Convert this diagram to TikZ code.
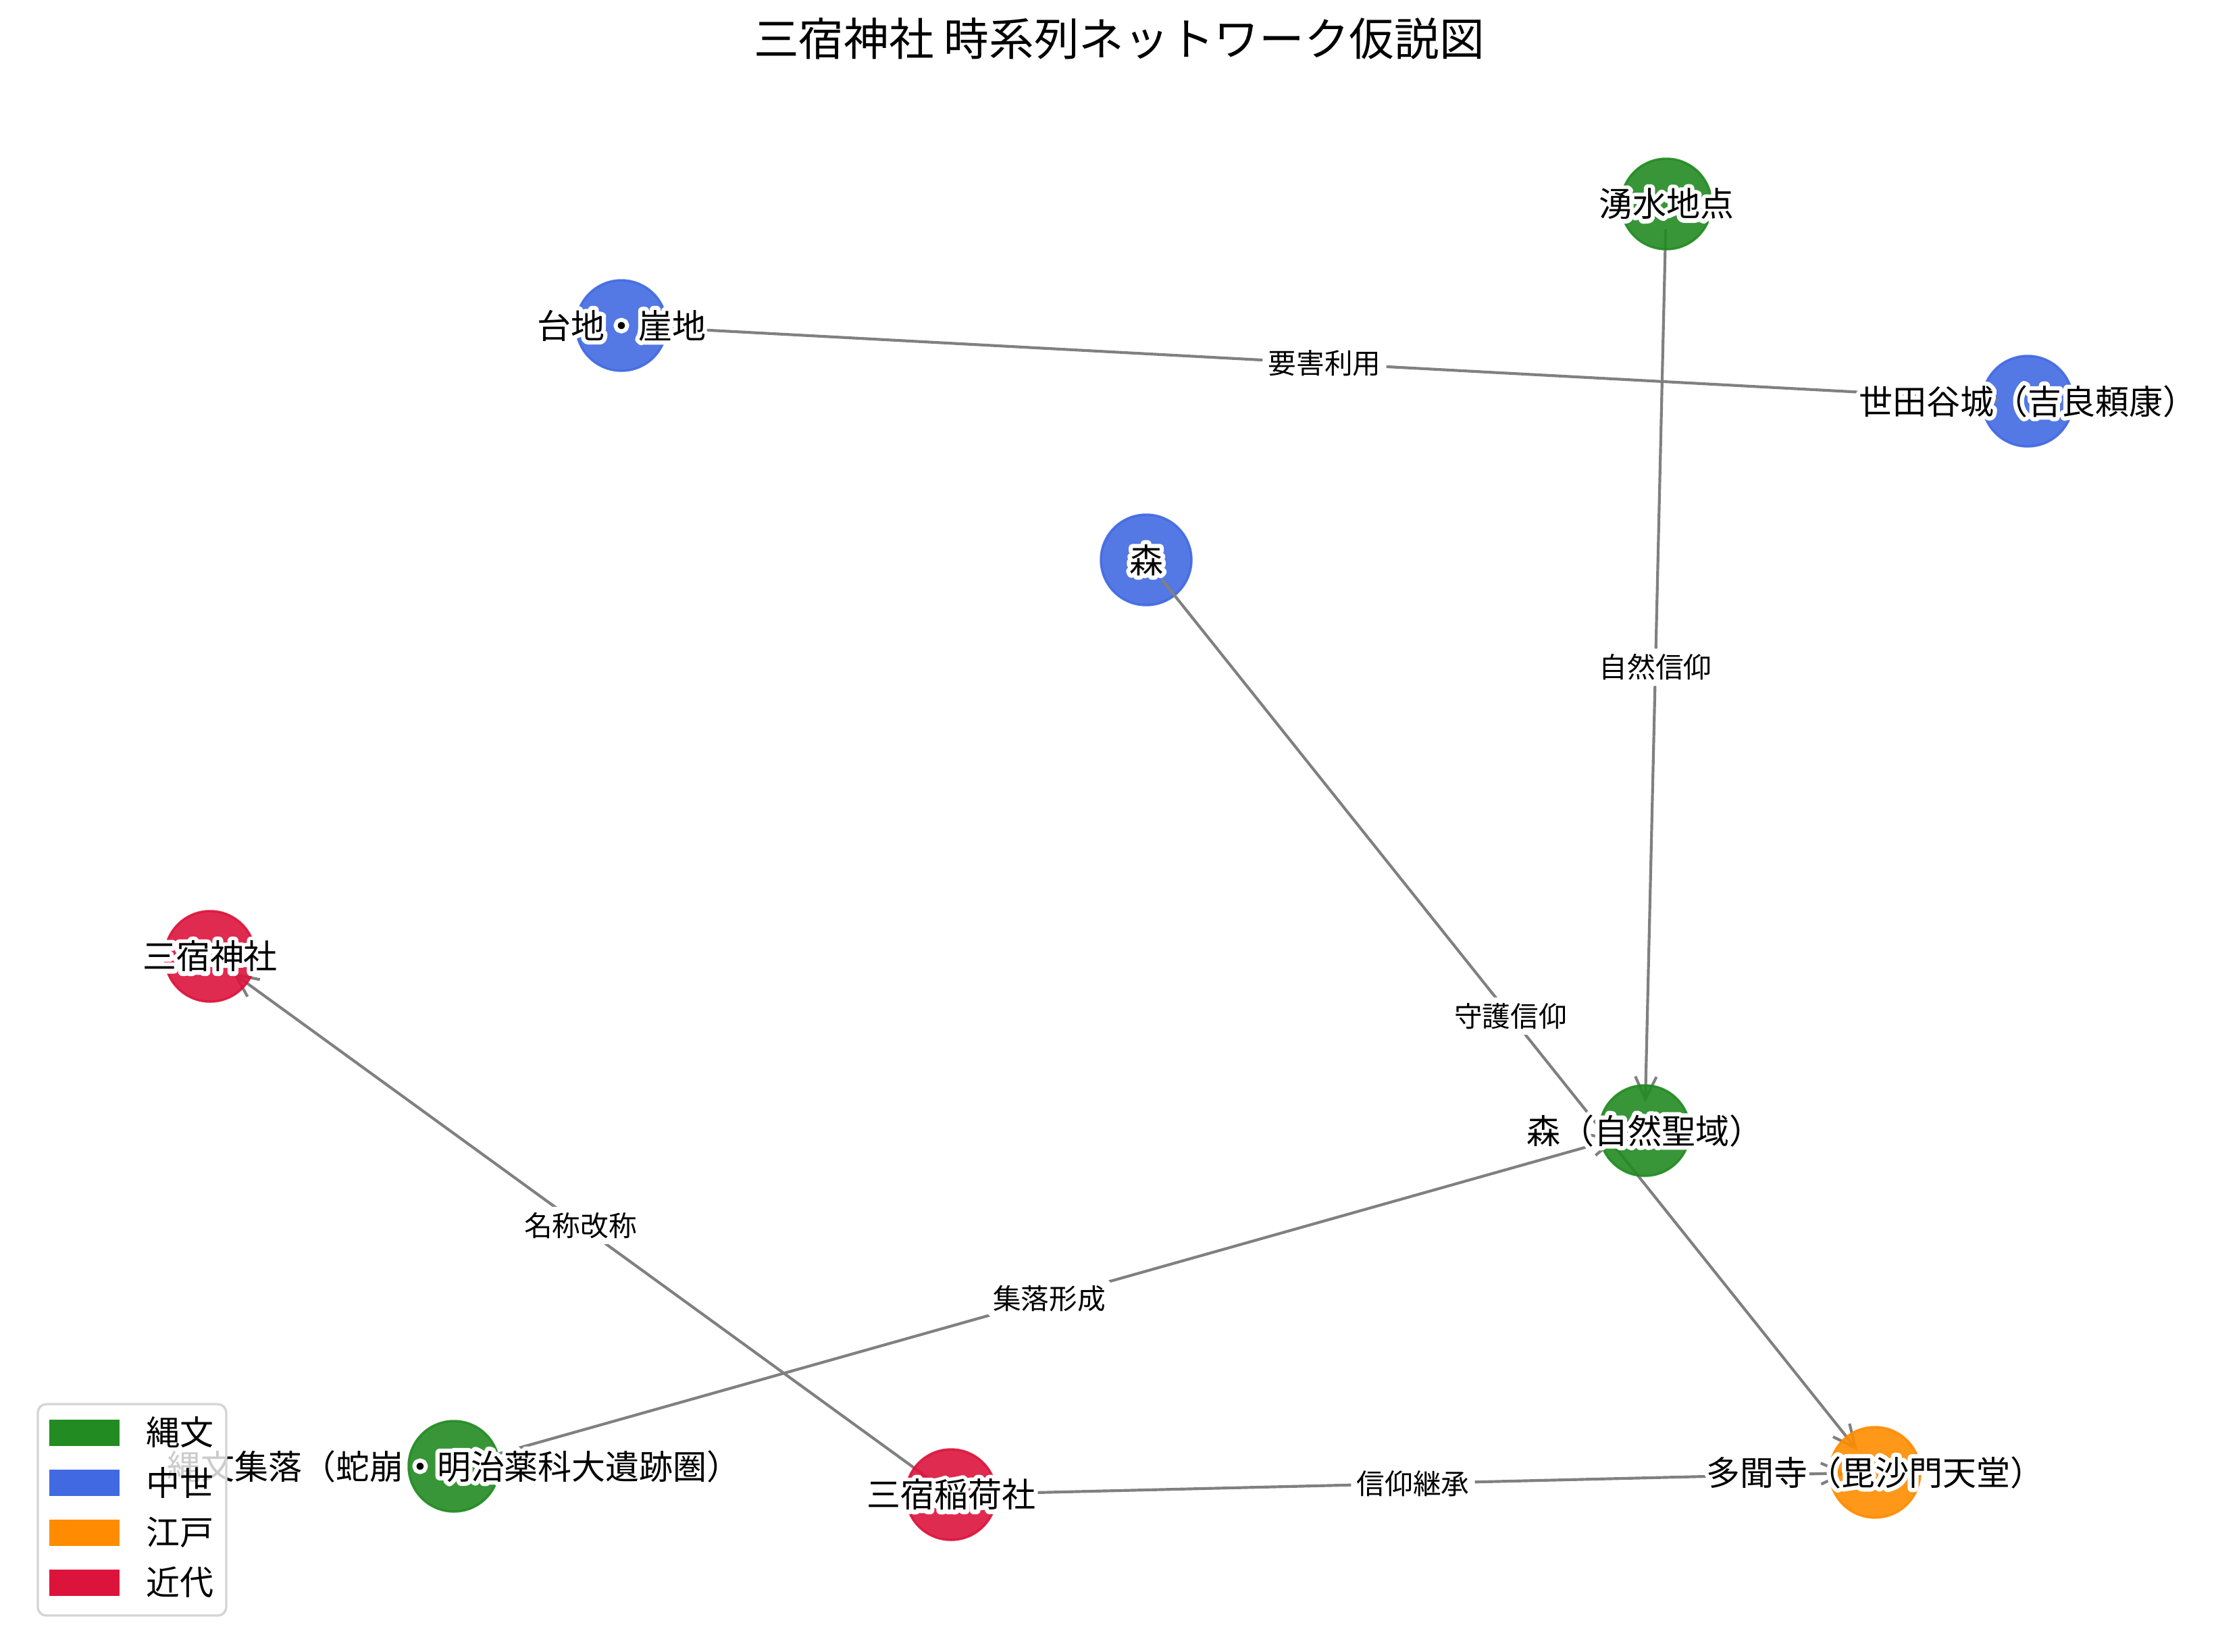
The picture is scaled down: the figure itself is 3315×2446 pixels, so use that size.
\documentclass[tikz,border=0pt]{standalone}
\usepackage{fontspec}
\setmainfont{Noto Sans CJK JP}
\newfontfamily\halofont[FakeBold=25]{Noto Sans CJK JP}
\usetikzlibrary{arrows.meta,calc}
\definecolor{cjomon}{RGB}{34,139,34}
\definecolor{cchusei}{RGB}{65,105,225}
\definecolor{cedo}{RGB}{255,140,0}
\definecolor{ckindai}{RGB}{220,20,60}
\definecolor{edgegray}{RGB}{128,128,128}
\tikzset{
  period/.style={circle, minimum size=32.2pt, inner sep=0pt, fill=#1, draw=#1, line width=0.8pt, opacity=0.9},
  nlabel/.style={font=\fontsize{12}{14}\selectfont, inner sep=0pt, text=black},
  hlabel/.style={font=\halofont\fontsize{12}{14}\selectfont, inner sep=0pt, text=white, line join=round},
  elabel/.style={font=\fontsize{10}{12}\selectfont, fill=white, rounded corners=2pt, inner sep=2pt},
  link/.style={draw=edgegray, line width=1pt, -{Straight Barb[length=8pt,width=7.5pt]}, shorten <=9pt, shorten >=10pt},
  legframe/.style={fill=white, fill opacity=0.8, draw=black!17, line width=0.8pt, rounded corners=3pt},
  legtext/.style={font=\fontsize{12}{14}\selectfont, anchor=west, inner sep=0pt},
  maintitle/.style={font=\fontsize{16}{19}\selectfont, inner sep=0pt}
}
\newcommand\halonode[3]{%
  \node[hlabel] (#1h) at (#2) {#3};
  \node[nlabel] (#1) at (#2) {#3};
}
\begin{document}
\begin{tikzpicture}[x=0.24pt, y=-0.24pt]
\useasboundingbox (0,0) rectangle (3315,2446);

% title
\node[maintitle] (title) at (1657,57) {三宿神社 時系列ネットワーク仮説図};

% medieval (blue) nodes drawn below the edges
\node[period=cchusei] (cD) at (920,482) {};
\node[period=cchusei] (cS) at (3002,594) {};
\node[period=cchusei] (cM) at (1697,829) {};

% positions of the other nodes
\coordinate (pY) at (2467,302);
\coordinate (pJ) at (311,1416);
\coordinate (pF) at (2435,1674);
\coordinate (pN) at (672,2171);
\coordinate (pI) at (1408,2213);
\coordinate (pT) at (2776,2180);

% edges
\draw[link] (cD.center) -- (cS.center) node[elabel, midway] (eA) {要害利用};
\draw[link] (pY) -- (pF) node[elabel, midway] (eB) {自然信仰};
\draw[link] (cM.center) -- (pT) node[elabel, midway] (eC) {守護信仰};
\draw[link] (pI) -- (pJ) node[elabel, midway] (eD) {名称改称};
\draw[link] (pN) -- (pF) node[elabel, midway] (eE) {集落形成};
\draw[link] (pI) -- (pT) node[elabel, midway] (eF) {信仰継承};

% other nodes (drawn above the edges)
\node[period=cjomon] (cY) at (pY) {};
\node[period=cjomon] (cF) at (pF) {};
\node[period=cjomon] (cN) at (pN) {};
\node[period=ckindai] (cJ) at (pJ) {};
\node[period=ckindai] (cI) at (pI) {};
\node[period=cedo] (cT) at (pT) {};

% node labels with white halo
\halonode{lY}{cY}{湧水地点}
\halonode{lD}{cD}{台地・崖地}
\halonode{lS}{cS}{世田谷城（吉良頼康）}
\halonode{lM}{cM}{森}
\halonode{lJ}{cJ}{三宿神社}
\halonode{lF}{cF}{森（自然聖域）}
\halonode{lN}{cN}{縄文集落（蛇崩・明治薬科大遺跡圏）}
\halonode{lI}{cI}{三宿稲荷社}
\halonode{lT}{cT}{多聞寺（毘沙門天堂）}

% legend
\path[legframe] (56,2079) rectangle (335,2392);
\fill[cjomon] (73,2102) rectangle (177,2141);
\fill[cchusei] (73,2176) rectangle (177,2215);
\fill[cedo] (73,2250) rectangle (177,2289);
\fill[ckindai] (73,2324) rectangle (177,2363);
\node[legtext] (g1) at (216,2121) {縄文};
\node[legtext] (g2) at (216,2195) {中世};
\node[legtext] (g3) at (216,2269) {江戸};
\node[legtext] (g4) at (216,2343) {近代};
\end{tikzpicture}
\end{document}
